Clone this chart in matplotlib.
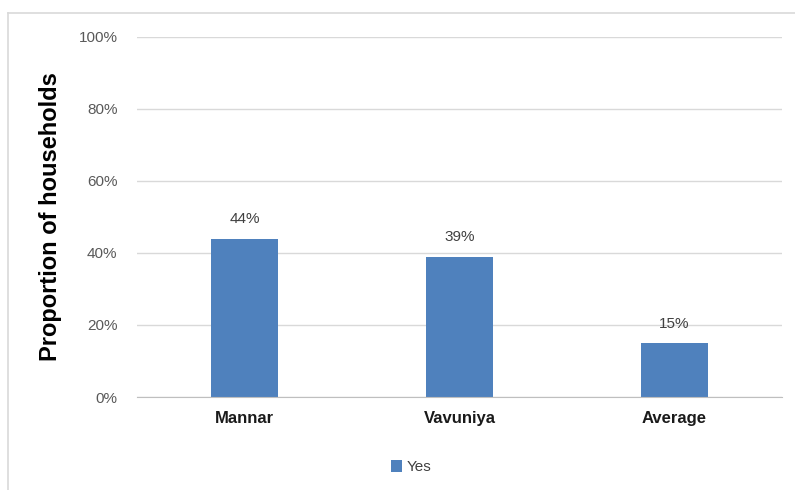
import matplotlib
matplotlib.use("Agg")
import matplotlib.pyplot as plt
from matplotlib.lines import Line2D
from matplotlib.ticker import FuncFormatter

categories = ["Mannar", "Vavuniya", "Average"]
yes_values = [44, 39, 15]
y_ticks = [0, 20, 40, 60, 80, 100]

plt.rcParams['font.family'] = ['Liberation Sans', 'DejaVu Sans']

fig = plt.figure(figsize=(7.95, 4.9), dpi=100)
ax = fig.add_axes([137/795, 93/490, 645/795, 360/490])

bar_color = "#4F81BD"
x = range(len(categories))
bars = ax.bar(x, yes_values, width=0.31, color=bar_color, label="Yes", zorder=3)

for xi, v in zip(x, yes_values):
    ax.annotate(f"{v}%", (xi, v), xytext=(0, 9), textcoords="offset points",
                ha="center", va="bottom", fontsize=11, color="#404040")

ax.set_xlim(-0.5, len(categories) - 0.5)
ax.set_ylim(0, 100)
ax.set_yticks(y_ticks)
ax.yaxis.set_major_formatter(FuncFormatter(lambda v, p: f"{int(v)}%"))
ax.grid(axis="y", color="#D9D9D9", linewidth=1, zorder=0)
ax.set_xticks(list(x))
ax.set_xticklabels(categories, fontsize=12, fontweight="bold", color="#1a1a1a")
ax.tick_params(axis="y", length=0, pad=14, labelsize=11, labelcolor="#595959")
ax.tick_params(axis="x", length=0, pad=10)
for s in ["top", "right", "left"]:
    ax.spines[s].set_visible(False)
ax.spines["bottom"].set_color("#BFBFBF")
ax.spines["bottom"].set_zorder(4)

fig.text(51/795, 1 - 217/490, "Proportion of households", rotation=90,
         ha="center", va="center", fontsize=17, fontweight="bold", color="black")

fig.legend(handles=[bars], labels=["Yes"], loc="center", bbox_to_anchor=(411/795, 1 - 467/490),
           frameon=False, fontsize=11, handlelength=0.7, handleheight=0.8, handletextpad=0.3,
           labelcolor="#404040")

fig.add_artist(Line2D([8/795, 1], [1 - 13/490, 1 - 13/490], transform=fig.transFigure,
                      color="#D9D9D9", linewidth=1.2))
fig.add_artist(Line2D([8/795, 8/795], [0, 1 - 13/490], transform=fig.transFigure,
                      color="#D9D9D9", linewidth=1.2))

fig.savefig("out.png", dpi=100, facecolor="white")
